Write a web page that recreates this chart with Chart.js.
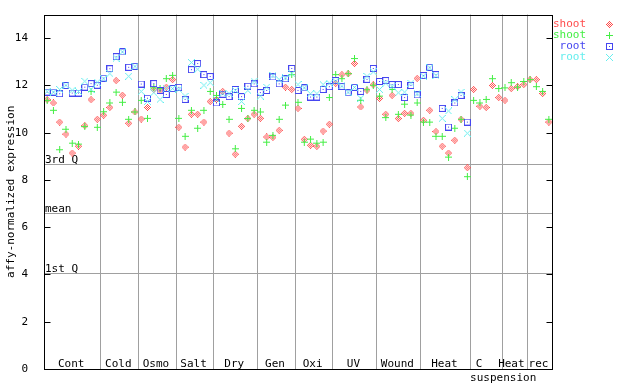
<!DOCTYPE html>
<html>
<head>
<meta charset="utf-8">
<script src="https://cdn.jsdelivr.net/npm/chart.js@4.4.0/dist/chart.umd.min.js"></script>
<style>
  html, body { margin: 0; padding: 0; background: #fff; }
</style>
</head>
<body>
<canvas id="chart" width="640" height="384"></canvas>
<script>
// group labels and where each group ends (sample index)
const groupLabels = ["Cont", "Cold", "Osmo", "Salt", "Dry", "Gen", "Oxi", "UV", "Wound", "Heat", "C", "Heat", "rec"];
const groupEnds = [9, 15, 21, 27, 34, 40, 46, 53, 60, 68, 73, 77, 81];

const yTicks = [0, 2, 4, 6, 8, 10, 12, 14];
const quartiles = [8.67, 6.61, 4.08];
const quartileLabels = ["3rd Q", "mean", "1st Q"];

const shootRed = [
  11.40, 11.26, 10.45, 9.94, 9.14, 9.43, 10.30, 11.40, 10.57,
  10.74, 11.07, 12.21, 11.59, 10.40, 10.88,
  10.58, 11.07, 11.83, 11.80, 11.93, 12.25,
  10.23, 9.39, 10.78, 10.78, 10.45, 11.32,
  11.41, 11.75, 9.98, 9.09, 10.27, 10.60, 10.78,
  10.61, 9.82, 9.80, 10.10, 11.93, 11.83,
  11.03, 9.72, 9.47, 9.42, 10.07, 10.36,
  12.09, 12.46, 12.50, 12.93, 11.09, 11.80, 12.03,
  11.45, 10.78, 11.58, 10.60, 10.82, 10.82, 12.30,
  10.53, 10.95, 10.05, 9.43, 9.14, 9.68, 10.57, 8.52,
  11.83, 11.12, 11.07, 12.00, 11.49,
  11.37, 11.87, 11.95, 12.04,
  12.25, 12.25, 11.66, 10.45
];
const shootGreen = [
  11.36, 10.95, 9.28, 10.15, 9.56, 9.52, 10.26, 11.75, 10.23,
  10.89, 11.26, 11.72, 11.29, 10.57, 10.88,
  11.37, 10.61, 11.90, 11.87, 12.29, 12.43,
  10.61, 9.85, 10.95, 10.19, 10.95, 11.75,
  11.58, 11.20, 10.57, 9.32, 11.03, 10.60, 10.95,
  10.88, 9.60, 9.89, 10.57, 11.17, 12.46,
  11.29, 9.60, 9.73, 9.56, 9.60, 11.49,
  12.46, 12.29, 12.50, 13.14, 11.37, 11.82, 12.01,
  11.55, 10.64, 11.83, 10.78, 11.21, 10.75, 11.26,
  10.45, 10.45, 9.85, 9.85, 8.97, 10.19, 10.57, 8.14,
  11.37, 11.26, 11.41, 12.29, 11.87,
  11.90, 12.12, 11.93, 12.17,
  12.25, 11.95, 11.75, 10.57
];
const rootBlue = [
  11.72, 11.72, 11.65, 12.00, 11.68, 11.68, 11.93, 12.08, 12.01,
  12.31, 12.71, 13.22, 13.42, 12.77, 12.81,
  12.06, 11.46, 12.08, 11.79, 11.62, 11.87,
  11.92, 11.41, 12.67, 12.93, 12.46, 12.38,
  11.26, 11.63, 11.53, 11.83, 11.53, 11.97, 12.07,
  11.70, 11.79, 12.36, 12.07, 12.28, 12.72,
  11.79, 11.90, 11.51, 11.51, 11.83, 11.95,
  12.21, 11.96, 11.69, 11.92, 11.75, 12.26, 12.72,
  12.17, 12.21, 12.04, 12.04, 11.49, 12.00, 11.60,
  12.42, 12.77, 12.46, 11.03, 10.24, 11.26, 11.58, 10.45
];
const rootCyan = [
  11.75, 11.72, 11.83, 12.01, 11.80, 11.75, 12.18, 11.83, 12.14,
  12.28, 12.50, 13.16, 13.42, 12.39, 12.81,
  11.75, 11.32, 11.70, 11.41, 11.87, 11.87,
  11.83, 11.55, 12.97, 12.69, 12.01, 12.12,
  11.41, 11.66, 11.66, 11.79, 11.32, 11.79, 12.18,
  11.55, 11.93, 12.42, 12.25, 12.32, 12.50,
  12.04, 11.90, 11.65, 11.65, 12.04, 12.10,
  12.18, 11.98, 11.72, 11.92, 11.46, 12.39, 12.58,
  11.83, 12.10, 11.97, 11.69, 11.72, 12.10, 11.65,
  12.40, 12.75, 12.42, 10.61, 10.92, 11.40, 11.72, 9.98
];

const MONO = "'DejaVu Sans Mono', monospace";
const RED = "#ff4c4c", GREEN = "#44ee44", BLUE = "#4646f0", CYAN = "#66eeee";

// small pixel markers like the original plot
function marker(kind, color) {
  const c = document.createElement("canvas");
  c.width = 7; c.height = 7;
  const g = c.getContext("2d");
  g.fillStyle = color;
  for (let py = 0; py < 7; py++) {
    for (let px = 0; px < 7; px++) {
      const dx = Math.abs(px - 3), dy = Math.abs(py - 3);
      let on = false;
      if (kind === "diamond") on = (dx + dy === 3) || (dx + dy === 1);
      if (kind === "plus") on = dx === 0 || dy === 0;
      if (kind === "square") on = Math.max(dx, dy) === 3 || (dx === 0 && dy === 0);
      if (kind === "x") on = dx === dy;
      if (on) g.fillRect(px, py, 1, 1);
    }
  }
  return c;
}

const series = [
  { label: "shoot", values: shootRed, color: RED, style: marker("diamond", RED), order: 4 },
  { label: "shoot", values: shootGreen, color: GREEN, style: marker("plus", GREEN), order: 3 },
  { label: "root", values: rootBlue, color: BLUE, style: marker("square", BLUE), order: 2 },
  { label: "root", values: rootCyan, color: CYAN, style: marker("x", CYAN), order: 1 }
];

const overlay = {
  id: "overlay",
  beforeDatasetsDraw(chart) {
    const { ctx, chartArea: a, scales: { x, y } } = chart;
    ctx.save();
    ctx.strokeStyle = "#a0a0a0";
    ctx.lineWidth = 1;
    groupEnds.slice(0, -1).forEach(b => {
      const px = Math.round(x.getPixelForValue(b - 0.5)) + 0.5;
      ctx.beginPath(); ctx.moveTo(px, a.top); ctx.lineTo(px, a.bottom); ctx.stroke();
    });
    ctx.font = "11px " + MONO;
    ctx.fillStyle = "#000";
    ctx.textBaseline = "alphabetic";
    quartiles.forEach((q, k) => {
      const py = Math.round(y.getPixelForValue(q)) + 0.5;
      ctx.beginPath(); ctx.moveTo(a.left, py); ctx.lineTo(a.right, py); ctx.stroke();
      ctx.textAlign = "left";
      ctx.fillText(quartileLabels[k], a.left + 1, py - 2);
    });
    // group labels along the bottom
    ctx.textAlign = "center";
    let start = 0;
    groupEnds.forEach((end, k) => {
      const cx = x.getPixelForValue((start + end) / 2 - 0.5);
      if (groupLabels[k] === "C") {
        ctx.fillText("C", cx - 7, a.bottom - 2);
        ctx.fillText("suspension", cx + 17, a.bottom + 12);
      } else if (k === 11) {
        ctx.fillText(groupLabels[k], cx - 3, a.bottom - 2);
      } else {
        ctx.fillText(groupLabels[k], cx - 1, a.bottom - 2);
      }
      start = end;
    });
    ctx.restore();
  },
  afterDraw(chart) {
    const { ctx, chartArea: a, scales: { y } } = chart;
    ctx.save();
    ctx.strokeStyle = "#000";
    ctx.lineWidth = 1;
    const l = Math.round(a.left) + 0.5, r = Math.round(a.right) + 0.5;
    const t = Math.round(a.top) + 0.5, b = Math.round(a.bottom) + 0.5;
    ctx.strokeRect(l, t, r - l, b - t);
    y.ticks.forEach(tk => {
      const py = Math.round(y.getPixelForValue(tk.value)) + 0.5;
      ctx.beginPath();
      ctx.moveTo(l, py); ctx.lineTo(l + 6, py);
      ctx.moveTo(r - 6, py); ctx.lineTo(r, py);
      ctx.stroke();
    });
    // legend at top right
    ctx.font = "11px " + MONO;
    ctx.textBaseline = "middle";
    ctx.textAlign = "right";
    series.forEach((s, k) => {
      const ry = 24 + k * 11;
      ctx.fillStyle = s.color;
      ctx.fillText(s.label, 586, ry);
      ctx.drawImage(s.style, 606, ry - 3);
    });
    ctx.restore();
  }
};

new Chart(document.getElementById("chart"), {
  type: "scatter",
  data: {
    datasets: series.map(s => ({
      label: s.label,
      data: s.values.map((v, i) => ({ x: i, y: v })),
      pointStyle: s.style,
      pointRadius: 3,
      borderColor: s.color,
      backgroundColor: s.color,
      order: s.order
    }))
  },
  options: {
    responsive: false,
    animation: false,
    devicePixelRatio: 1,
    layout: { padding: { top: 13, right: 88, bottom: 15, left: 0 } },
    plugins: { legend: { display: false }, tooltip: { enabled: false } },
    scales: {
      x: { type: "linear", min: -0.5, max: 80.5, display: false },
      y: {
        min: 0, max: 15,
        afterBuildTicks: s => { s.ticks = yTicks.map(v => ({ value: v })); },
        afterFit: s => { s.width = 44; },
        grid: { display: false },
        border: { display: false },
        ticks: { color: "#000", font: { family: MONO, size: 11 }, padding: 8 },
        title: {
          display: true, text: "affy-normalized expression", color: "#000",
          font: { family: MONO, size: 11 }, padding: { top: 5, bottom: 0 }
        }
      }
    }
  },
  plugins: [overlay]
});
</script>
</body>
</html>
